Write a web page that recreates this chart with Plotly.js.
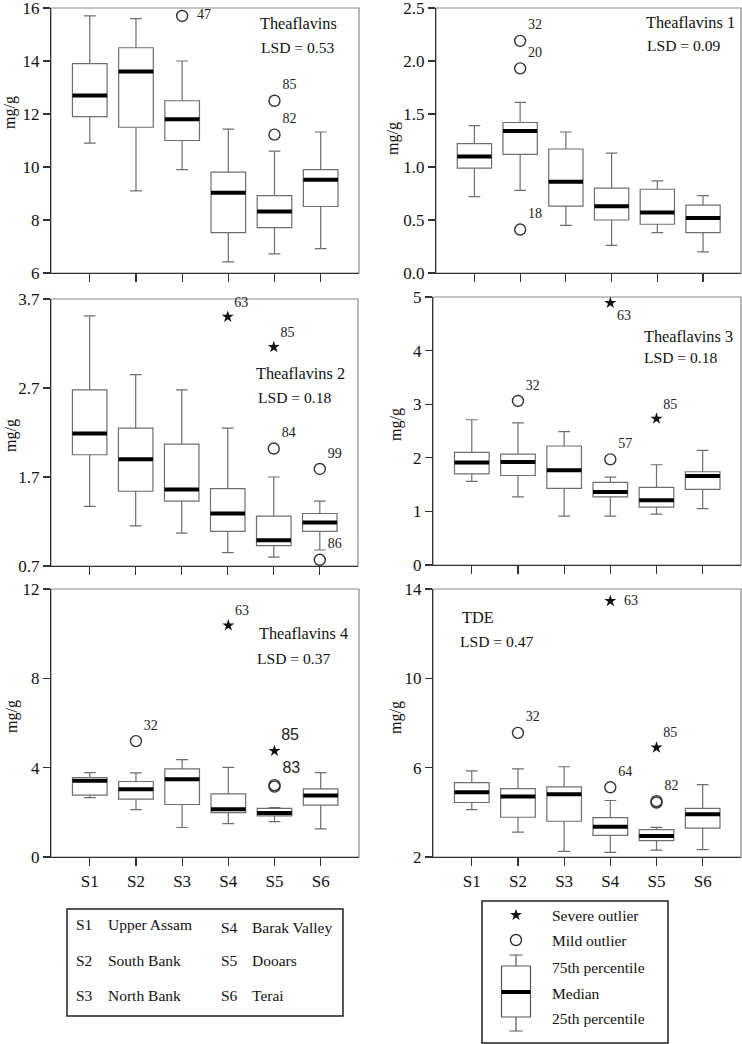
<!DOCTYPE html>
<html>
<head>
<meta charset="utf-8">
<script src="https://cdn.plot.ly/plotly-3.0.1.min.js"></script>
<style>
  html, body { margin: 0; padding: 0; background: #fff; }
  #chart { width: 742px; height: 1044px; }
</style>
</head>
<body>
<div id="chart"></div>
<script>
"use strict"
var sites = ['S1', 'S2', 'S3', 'S4', 'S5', 'S6'];

// Theaflavins
var tfLow = [10.9, 9.1, 9.9, 6.42, 6.72, 6.92];
var tfQ1 = [11.9, 11.5, 11.0, 7.52, 7.71, 8.51];
var tfMed = [12.7, 13.6, 11.8, 9.03, 8.32, 9.52];
var tfQ3 = [13.9, 14.5, 12.5, 9.81, 8.92, 9.9];
var tfHigh = [15.7, 15.6, 14.0, 11.43, 10.6, 11.32];
var tfMildX = ['S3', 'S5', 'S5'];
var tfMildY = [15.7, 12.5, 11.22];
var tfMildLab = ['47', '85', '82'];

// Theaflavins 1
var tf1Low = [0.72, 0.78, 0.45, 0.26, 0.38, 0.20];
var tf1Q1 = [0.99, 1.12, 0.63, 0.50, 0.46, 0.38];
var tf1Med = [1.10, 1.34, 0.86, 0.63, 0.57, 0.52];
var tf1Q3 = [1.22, 1.42, 1.17, 0.80, 0.79, 0.64];
var tf1High = [1.39, 1.61, 1.33, 1.13, 0.87, 0.73];
var tf1MildX = ['S2', 'S2', 'S2'];
var tf1MildY = [2.19, 1.93, 0.41];
var tf1MildLab = ['32', '20', '18'];

// Theaflavins 2
var tf2Low = [1.37, 1.15, 1.07, 0.85, 0.80, 0.88];
var tf2Q1 = [1.95, 1.54, 1.43, 1.09, 0.93, 1.09];
var tf2Med = [2.19, 1.90, 1.56, 1.29, 0.99, 1.19];
var tf2Q3 = [2.68, 2.25, 2.07, 1.57, 1.26, 1.29];
var tf2High = [3.51, 2.85, 2.68, 2.25, 1.70, 1.43];
var tf2MildX = ['S5', 'S6', 'S6'];
var tf2MildY = [2.02, 1.79, 0.77];
var tf2MildLab = ['84', '99', '86'];
var tf2SevX = ['S4', 'S5'];
var tf2SevY = [3.50, 3.16];
var tf2SevLab = ['63', '85'];

// Theaflavins 3
var tf3Low = [1.56, 1.27, 0.91, 0.91, 0.95, 1.05];
var tf3Q1 = [1.70, 1.67, 1.43, 1.27, 1.08, 1.41];
var tf3Med = [1.91, 1.92, 1.77, 1.36, 1.21, 1.66];
var tf3Q3 = [2.10, 2.07, 2.22, 1.54, 1.45, 1.74];
var tf3High = [2.71, 2.65, 2.49, 1.64, 1.87, 2.14];
var tf3MildX = ['S2', 'S4'];
var tf3MildY = [3.06, 1.97];
var tf3MildLab = ['32', '57'];
var tf3SevX = ['S4', 'S5'];
var tf3SevY = [4.89, 2.73];
var tf3SevLab = ['63', '85'];

// Theaflavins 4
var tf4Low = [2.66, 2.12, 1.32, 1.49, 1.58, 1.26];
var tf4Q1 = [2.77, 2.59, 2.35, 1.99, 1.84, 2.32];
var tf4Med = [3.41, 3.03, 3.48, 2.14, 1.97, 2.75];
var tf4Q3 = [3.56, 3.38, 3.95, 2.83, 2.18, 3.05];
var tf4High = [3.78, 3.77, 4.36, 4.01, 2.21, 3.78];
var tf4MildX = ['S2', 'S5', 'S5'];
var tf4MildY = [5.19, 3.15, 3.22];
var tf4MildLab = ['32', '', '83'];
var tf4SevX = ['S4', 'S5'];
var tf4SevY = [10.37, 4.75];
var tf4SevLab = ['63', '85'];

// TDE
var tdeLow = [4.12, 3.11, 2.25, 2.21, 2.31, 2.33];
var tdeQ1 = [4.44, 3.78, 3.60, 2.97, 2.73, 3.29];
var tdeMed = [4.90, 4.71, 4.81, 3.36, 2.94, 3.91];
var tdeQ3 = [5.33, 5.06, 5.14, 3.76, 3.23, 4.18];
var tdeHigh = [5.86, 5.95, 6.04, 4.53, 3.33, 5.24];
var tdeMildX = ['S2', 'S4', 'S5', 'S5'];
var tdeMildY = [7.56, 5.12, 4.44, 4.50];
var tdeMildLab = ['32', '64', '', '82'];
var tdeSevX = ['S4', 'S5'];
var tdeSevY = [13.46, 6.90];
var tdeSevLab = ['63', '85'];

// legend text
var siteNames = ['Upper Assam', 'South Bank', 'North Bank', 'Barak Valley', 'Dooars', 'Terai'];
var keyLabels = ['Severe outlier', 'Mild outlier', '75th percentile', 'Median', '25th percentile'];

var W = 742, H = 1044;
function px(x) { return x / W; }
function py(y) { return 1 - y / H; }

var serif = '"Times New Roman", "Liberation Serif", serif';
var sans = '"Liberation Sans", Arial, sans-serif';

var panels = [
  { name: 'Theaflavins', lsd: 'LSD = 0.53', low: tfLow, q1: tfQ1, med: tfMed, q3: tfQ3, high: tfHigh,
    mildX: tfMildX, mildY: tfMildY, mildLab: tfMildLab, mildPos: ['middle right', 'top right', 'top right'],
    range: [6, 16], ticks: [6, 8, 10, 12, 14, 16], fmt: '',
    xd: [51, 359], yd: [8, 273], nameXY: [298, 24], lsdXY: [298, 48], unitXY: [10, 113] },
  { name: 'Theaflavins 1', lsd: 'LSD = 0.09', low: tf1Low, q1: tf1Q1, med: tf1Med, q3: tf1Q3, high: tf1High,
    mildX: tf1MildX, mildY: tf1MildY, mildLab: tf1MildLab, mildPos: ['top right', 'top right', 'top right'],
    range: [0, 2.5], ticks: [0, 0.5, 1, 1.5, 2, 2.5], fmt: '.1f',
    xd: [436, 741], yd: [8, 273], nameXY: [690, 23], lsdXY: [684, 45], unitXY: [393, 139] },
  { name: 'Theaflavins 2', lsd: 'LSD = 0.18', low: tf2Low, q1: tf2Q1, med: tf2Med, q3: tf2Q3, high: tf2High,
    mildX: tf2MildX, mildY: tf2MildY, mildLab: tf2MildLab, mildPos: ['top right', 'top right', 'top right'],
    sevX: tf2SevX, sevY: tf2SevY, sevLab: tf2SevLab, sevPos: ['top right', 'top right'],
    range: [0.7, 3.7], ticks: [0.7, 1.7, 2.7, 3.7], fmt: '.1f',
    xd: [51, 358], yd: [299, 566], nameXY: [300, 373], lsdXY: [295, 397], unitXY: [11, 436] },
  { name: 'Theaflavins 3', lsd: 'LSD = 0.18', low: tf3Low, q1: tf3Q1, med: tf3Med, q3: tf3Q3, high: tf3High,
    mildX: tf3MildX, mildY: tf3MildY, mildLab: tf3MildLab, mildPos: ['top right', 'top right'],
    sevX: tf3SevX, sevY: tf3SevY, sevLab: tf3SevLab, sevPos: ['bottom right', 'top right'],
    range: [0, 5], ticks: [0, 1, 2, 3, 4, 5], fmt: '',
    xd: [433, 741], yd: [297, 565], nameXY: [688, 337], lsdXY: [681, 357], unitXY: [396, 425] },
  { name: 'Theaflavins 4', lsd: 'LSD = 0.37', low: tf4Low, q1: tf4Q1, med: tf4Med, q3: tf4Q3, high: tf4High,
    mildX: tf4MildX, mildY: tf4MildY, mildLab: tf4MildLab, mildPos: ['top right', 'top right', 'top right'],
    mildFont: [serif, sans, sans],
    sevX: tf4SevX, sevY: tf4SevY, sevLab: tf4SevLab, sevPos: ['top right', 'top right'],
    sevFont: [serif, sans],
    range: [0, 12], ticks: [0, 4, 8, 12], fmt: '',
    xd: [51, 359], yd: [589, 857], nameXY: [303, 633], lsdXY: [294, 658], unitXY: [12, 717] },
  { name: 'TDE', lsd: 'LSD = 0.47', low: tdeLow, q1: tdeQ1, med: tdeMed, q3: tdeQ3, high: tdeHigh,
    mildX: tdeMildX, mildY: tdeMildY, mildLab: tdeMildLab, mildPos: ['top right', 'top right', 'top right', 'top right'],
    sevX: tdeSevX, sevY: tdeSevY, sevLab: tdeSevLab, sevPos: ['middle right', 'top right'],
    range: [2, 14], ticks: [2, 6, 10, 14], fmt: '',
    xd: [433, 741], yd: [589, 857], nameXY: [478, 617], lsdXY: [497, 641], unitXY: [396, 718] }
];

function templates(pos) {
  return pos.map(function (p) { return p === 'middle right' ? '\u00a0\u00a0%{text}' : '%{text}'; });
}

var data = [];
var layout = {
  width: W,
  height: H,
  margin: { l: 0, r: 0, t: 0, b: 0 },
  paper_bgcolor: '#fff',
  plot_bgcolor: 'rgba(0,0,0,0)',
  showlegend: false,
  boxmode: 'overlay',
  font: { family: serif, size: 16, color: '#111' },
  annotations: [],
  shapes: []
};

panels.forEach(function (p, i) {
  var n = i + 1;
  var xa = 'x' + (n === 1 ? '' : n);
  var ya = 'y' + (n === 1 ? '' : n);

  // box with whiskers
  data.push({
    type: 'box', xaxis: xa, yaxis: ya, x: sites,
    lowerfence: p.low, q1: p.q1, median: p.med, q3: p.q3, upperfence: p.high,
    width: 0.75, whiskerwidth: 0.34, boxpoints: false,
    fillcolor: '#fff', line: { color: '#6e6e6e', width: 1.2 },
    hoverinfo: 'skip'
  });
  // thick median bar
  data.push({
    type: 'box', xaxis: xa, yaxis: ya, x: sites,
    lowerfence: p.med, q1: p.med, median: p.med, q3: p.med, upperfence: p.med,
    width: 0.75, whiskerwidth: 0, boxpoints: false,
    fillcolor: 'rgba(0,0,0,0)', line: { color: '#000', width: 4 },
    hoverinfo: 'skip'
  });
  // mild outliers
  data.push({
    type: 'scatter', mode: 'markers+text', xaxis: xa, yaxis: ya,
    x: p.mildX, y: p.mildY, text: p.mildLab, textposition: p.mildPos,
    texttemplate: templates(p.mildPos),
    textfont: { family: p.mildFont || serif, size: p.mildFont ? [14, 16, 16] : 14, color: '#222' },
    marker: { symbol: 'circle-open', size: 11, color: '#333', line: { width: 1.4 } },
    cliponaxis: false, hoverinfo: 'skip'
  });
  // severe outliers
  if (p.sevX) {
    data.push({
      type: 'scatter', mode: 'markers+text', xaxis: xa, yaxis: ya,
      x: p.sevX, y: p.sevY, text: p.sevLab, textposition: p.sevPos,
      texttemplate: templates(p.sevPos),
      textfont: { family: p.sevFont || serif, size: p.sevFont ? [14, 16] : 14, color: '#222' },
      marker: { symbol: 'star', size: 9, color: '#111' },
      cliponaxis: false, hoverinfo: 'skip'
    });
  }

  layout['xaxis' + (n === 1 ? '' : n)] = {
    domain: [px(p.xd[0]), px(p.xd[1])],
    anchor: ya,
    type: 'category',
    categoryarray: sites,
    range: [-0.84, 5.83],
    showline: true, linecolor: '#333', linewidth: 1.2,
    showgrid: false, zeroline: false,
    ticks: 'outside', ticklen: 8, tickwidth: 1.2, tickcolor: '#333',
    showticklabels: n >= 5,
    tickfont: { family: serif, size: 17, color: '#111' },
    fixedrange: true
  };
  layout['yaxis' + (n === 1 ? '' : n)] = {
    domain: [py(p.yd[1]), py(p.yd[0])],
    anchor: xa,
    range: p.range,
    tickvals: p.ticks,
    tickformat: p.fmt,
    ticklabeloverflow: 'allow',
    showline: true, linecolor: '#333', linewidth: 1.2,
    showgrid: false, zeroline: false,
    ticks: 'outside', ticklen: 7, tickwidth: 1.2, tickcolor: '#333',
    tickfont: { family: serif, size: 17, color: '#111' },
    fixedrange: true
  };

  // light frame on top and right
  layout.shapes.push({
    type: 'rect', xref: xa + ' domain', yref: ya + ' domain',
    x0: 0, x1: 1, y0: 0, y1: 1, layer: 'below',
    line: { color: '#8a8a8a', width: 1.2 }
  });

  // unit label, placed as in the original figure
  layout.annotations.push({
    text: 'mg/g', xref: 'paper', yref: 'paper', textangle: -90,
    x: px(p.unitXY[0]), y: py(p.unitXY[1]), xanchor: 'center', yanchor: 'middle',
    showarrow: false, font: { family: serif, size: 16, color: '#111' }
  });
  layout.annotations.push({
    text: p.name, xref: 'paper', yref: 'paper',
    x: px(p.nameXY[0]), y: py(p.nameXY[1]), xanchor: 'center', yanchor: 'middle',
    showarrow: false, font: { family: serif, size: 16.3, color: '#111' }
  });
  layout.annotations.push({
    text: p.lsd, xref: 'paper', yref: 'paper',
    x: px(p.lsdXY[0]), y: py(p.lsdXY[1]), xanchor: 'center', yanchor: 'middle',
    showarrow: false, font: { family: serif, size: 15.6, color: '#111' }
  });
});

// key: site names
layout.shapes.push({
  type: 'rect', xref: 'paper', yref: 'paper',
  x0: px(67), x1: px(343), y0: py(1016), y1: py(909),
  line: { color: '#222', width: 1.5 }
});
var nameRows = [924, 960, 995];
sites.forEach(function (s, i) {
  var col = i < 3 ? 0 : 1;
  var yy = nameRows[i % 3] + (col === 1 && i === 3 ? 3 : 0);
  layout.annotations.push({
    text: s, xref: 'paper', yref: 'paper', x: px(col ? 219 : 74), y: py(yy),
    xanchor: 'left', yanchor: 'middle', showarrow: false,
    font: { family: serif, size: 15.5, color: '#111' }
  });
  layout.annotations.push({
    text: siteNames[i], xref: 'paper', yref: 'paper', x: px(col ? 250 : 106), y: py(yy),
    xanchor: 'left', yanchor: 'middle', showarrow: false,
    font: { family: serif, size: 15.5, color: '#111' }
  });
});

// key: symbols
layout.shapes.push({
  type: 'rect', xref: 'paper', yref: 'paper',
  x0: px(482), x1: px(668), y0: py(1043), y1: py(901),
  line: { color: '#222', width: 1.5 }
});
var keyRows = [915, 940, 967, 993, 1018];
keyLabels.forEach(function (t, i) {
  layout.annotations.push({
    text: t, xref: 'paper', yref: 'paper', x: px(550), y: py(keyRows[i]),
    xanchor: 'left', yanchor: 'middle', showarrow: false,
    font: { family: serif, size: 15.5, color: '#111' }
  });
});
// icon axis: one unit per pixel, measured up from y = 1040
var iconBox = { low: 9, q1: 23, med: 48, q3: 74, high: 85 };
data.push({
  type: 'box', xaxis: 'x7', yaxis: 'y7', x: [1],
  lowerfence: [iconBox.low], q1: [iconBox.q1], median: [iconBox.med], q3: [iconBox.q3], upperfence: [iconBox.high],
  width: 1.45, whiskerwidth: 0.45, boxpoints: false,
  fillcolor: '#fff', line: { color: '#555', width: 1.2 }, hoverinfo: 'skip'
});
data.push({
  type: 'box', xaxis: 'x7', yaxis: 'y7', x: [1],
  lowerfence: [iconBox.med], q1: [iconBox.med], median: [iconBox.med], q3: [iconBox.med], upperfence: [iconBox.med],
  width: 1.45, whiskerwidth: 0, boxpoints: false,
  fillcolor: 'rgba(0,0,0,0)', line: { color: '#000', width: 4 }, hoverinfo: 'skip'
});
data.push({
  type: 'scatter', mode: 'markers', xaxis: 'x7', yaxis: 'y7', x: [1], y: [125],
  marker: { symbol: 'star', size: 9, color: '#111' }, cliponaxis: false, hoverinfo: 'skip'
});
data.push({
  type: 'scatter', mode: 'markers', xaxis: 'x7', yaxis: 'y7', x: [1], y: [100],
  marker: { symbol: 'circle-open', size: 11, color: '#333', line: { width: 1.4 } }, cliponaxis: false, hoverinfo: 'skip'
});
layout.xaxis7 = { domain: [px(496), px(536)], anchor: 'y7', range: [0, 2], visible: false, fixedrange: true };
layout.yaxis7 = { domain: [py(1040), py(905)], anchor: 'x7', range: [0, 135], visible: false, fixedrange: true };

var config = { staticPlot: true };

Plotly.newPlot('chart', data, layout, config);
</script>
</body>
</html>
